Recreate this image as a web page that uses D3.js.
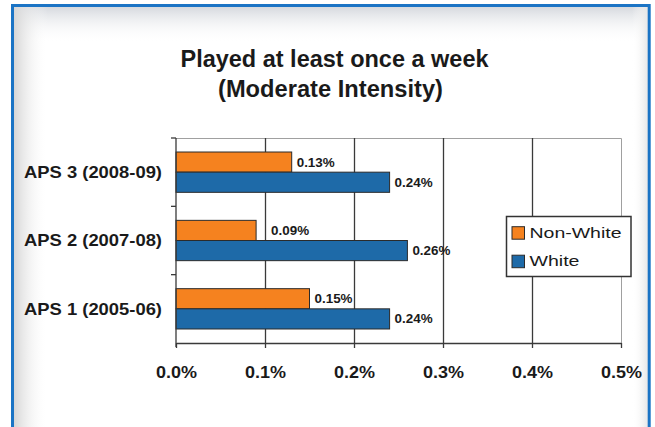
<!DOCTYPE html>
<html><head><meta charset="utf-8">
<script src="https://cdn.jsdelivr.net/npm/d3@7"></script>
<style>html,body{margin:0;padding:0;background:#fff;}svg{display:block;}</style>
</head><body>
<script>
const categories = ["APS 3 (2008-09)", "APS 2 (2007-08)", "APS 1 (2005-06)"];
const seriesNames = ["Non-White", "White"];
const nonWhite = [0.13, 0.09, 0.15];
const white = [0.24, 0.26, 0.24];
const xTicks = [0, 0.1, 0.2, 0.3, 0.4, 0.5];
const titleLines = ["Played at least once a week", "(Moderate Intensity)"];
const colors = ["#f5821f", "#1e6aa8"];

const W = 655, H = 427;
const svg = d3.select("body").append("svg").attr("width", W).attr("height", H);
const defs = svg.append("defs");
const gTop = defs.append("linearGradient").attr("id","gt").attr("x1",0).attr("y1",0).attr("x2",0).attr("y2",1);
gTop.append("stop").attr("offset","0%").attr("stop-color","#d6d9de");
gTop.append("stop").attr("offset","100%").attr("stop-color","#ffffff").attr("stop-opacity",0);
const gLeft = defs.append("linearGradient").attr("id","gl").attr("x1",0).attr("y1",0).attr("x2",1).attr("y2",0);
gLeft.append("stop").attr("offset","0%").attr("stop-color","#d6d6d6");
gLeft.append("stop").attr("offset","100%").attr("stop-color","#ffffff").attr("stop-opacity",0);
const gRight = defs.append("linearGradient").attr("id","gr").attr("x1",1).attr("y1",0).attr("x2",0).attr("y2",0);
gRight.append("stop").attr("offset","0%").attr("stop-color","#e6e6e6");
gRight.append("stop").attr("offset","100%").attr("stop-color","#ffffff").attr("stop-opacity",0);

// frame
svg.append("rect").attr("x",0).attr("y",0).attr("width",W).attr("height",H).attr("fill","#ffffff");
svg.append("rect").attr("x",14).attr("y",7).attr("width",634).attr("height",36).attr("fill","url(#gt)");
svg.append("rect").attr("x",14).attr("y",7).attr("width",34).attr("height",H-7).attr("fill","url(#gl)");
svg.append("rect").attr("x",632).attr("y",7).attr("width",16).attr("height",H-7).attr("fill","url(#gr)");
svg.append("path").attr("d", `M12.5,${H} L12.5,5.5 L649.2,5.5 L649.2,${H}`)
  .attr("fill","none").attr("stroke","#1b74c5").attr("stroke-width",3);

// title
const font = "Liberation Sans, Arial, sans-serif";
const tl = [[67, 308, 334.5], [96.5, 225, 330.5]];
titleLines.forEach((t,i)=>{
  svg.append("text").attr("x",tl[i][2]).attr("y",tl[i][0]).attr("text-anchor","middle")
    .attr("font-family",font).attr("font-size",23).attr("font-weight","bold").attr("fill","#1a1a1a")
    .attr("textLength", tl[i][1]).attr("lengthAdjust","spacingAndGlyphs").text(t);
});

// scales
const x0 = 176, x1 = 621, yTop = 138, yBot = 343;
const x = d3.scaleLinear().domain([0, 0.5]).range([x0, x1]);
const y = d3.scaleBand().domain(categories).range([yTop, yBot]).paddingInner(0.41).paddingOuter(0.205);
const yS = d3.scaleBand().domain(seriesNames).range([0, y.bandwidth()]);

// plot border (top/right light gray)
svg.append("path").attr("d", `M${x0},${yTop+0.5} L${x1+0.5},${yTop+0.5} L${x1+0.5},${yBot}`)
  .attr("fill","none").attr("stroke","#a0a0a0").attr("stroke-width",1);

// gridlines
svg.append("g").selectAll("line").data(xTicks.slice(1, -1)).join("line")
  .attr("x1", d=>Math.round(x(d))+0.5).attr("x2", d=>Math.round(x(d))+0.5)
  .attr("y1", yTop).attr("y2", yBot).attr("stroke","#3a3a3a").attr("stroke-width",1.3);

// bars
const data = [];
categories.forEach((c,i)=>{
  data.push({cat:c, s:seriesNames[0], v:nonWhite[i], i});
  data.push({cat:c, s:seriesNames[1], v:white[i], i});
});
svg.append("g").selectAll("rect").data(data).join("rect")
  .attr("x", x(0)).attr("y", d=>y(d.cat)+yS(d.s))
  .attr("width", d=>x(d.v)-x(0)).attr("height", yS.bandwidth())
  .attr("fill", d=>colors[seriesNames.indexOf(d.s)])
  .attr("stroke","#2b2b2b").attr("stroke-width",1);

// value labels
svg.append("g").selectAll("text").data(data).join("text")
  .attr("x", d=>x(d.v) + ((d.s==="Non-White" && d.i===1) ? 15 : 5))
  .attr("y", d=>y(d.cat)+yS(d.s)+yS.bandwidth()/2+4.5)
  .attr("font-family",font).attr("font-size",12).attr("font-weight","bold").attr("fill","#1a1a1a")
  .attr("textLength",38).attr("lengthAdjust","spacingAndGlyphs")
  .text(d=>d.v.toFixed(2)+"%");

// axes
const xAxis = d3.axisBottom(x).tickValues(xTicks).tickSize(5).tickSizeOuter(0).tickFormat(d=>d.toFixed(1)+"%");
const gx = svg.append("g").attr("transform",`translate(0,${yBot})`).call(xAxis);
gx.select(".domain").attr("stroke","#3a3a3a").attr("stroke-width",1.3);
gx.selectAll(".tick line").attr("stroke","#3a3a3a").attr("stroke-width",1.3);
gx.selectAll(".tick text").attr("y",35).attr("dy",0).attr("font-family",font).attr("font-size",16)
  .attr("font-weight","bold").attr("fill","#1a1a1a").attr("textLength",41).attr("lengthAdjust","spacingAndGlyphs");

const yAxis = d3.axisLeft(y).tickSize(0);
const gy = svg.append("g").attr("transform",`translate(${x0},0)`).call(yAxis);
gy.select(".domain").remove();
svg.append("line").attr("x1",x0).attr("x2",x0).attr("y1",yTop).attr("y2",yBot+4)
  .attr("stroke","#3a3a3a").attr("stroke-width",1.3);
// category boundary ticks
const bounds = [yTop, yTop + (yBot-yTop)/3, yTop + 2*(yBot-yTop)/3];
svg.append("g").selectAll("line").data(bounds).join("line")
  .attr("x1",x0-5).attr("x2",x0).attr("y1",d=>d).attr("y2",d=>d)
  .attr("stroke","#3a3a3a").attr("stroke-width",1.3);
gy.selectAll(".tick text").attr("x",-14).attr("dy","0.35em").attr("font-family",font).attr("font-size",17)
  .attr("font-weight","bold").attr("fill","#1a1a1a").attr("textLength",138).attr("lengthAdjust","spacingAndGlyphs");

// legend
const lg = svg.append("g");
lg.append("rect").attr("x",506.5).attr("y",216.5).attr("width",124.5).attr("height",60)
  .attr("fill","#ffffff").attr("stroke","#333").attr("stroke-width",1.5);
const lw = [92, 50];
seriesNames.forEach((s,i)=>{
  const yy = 226.7 + i*28.5;
  lg.append("rect").attr("x",512).attr("y",yy).attr("width",12.5).attr("height",12.5)
    .attr("fill",colors[i]).attr("stroke","#2b2b2b").attr("stroke-width",1);
  lg.append("text").attr("x",529.5).attr("y",yy+11.2).attr("font-family",font).attr("font-size",15)
    .attr("fill","#1a1a1a").attr("textLength",lw[i]).attr("lengthAdjust","spacingAndGlyphs").text(s);
});
</script>
</body></html>
